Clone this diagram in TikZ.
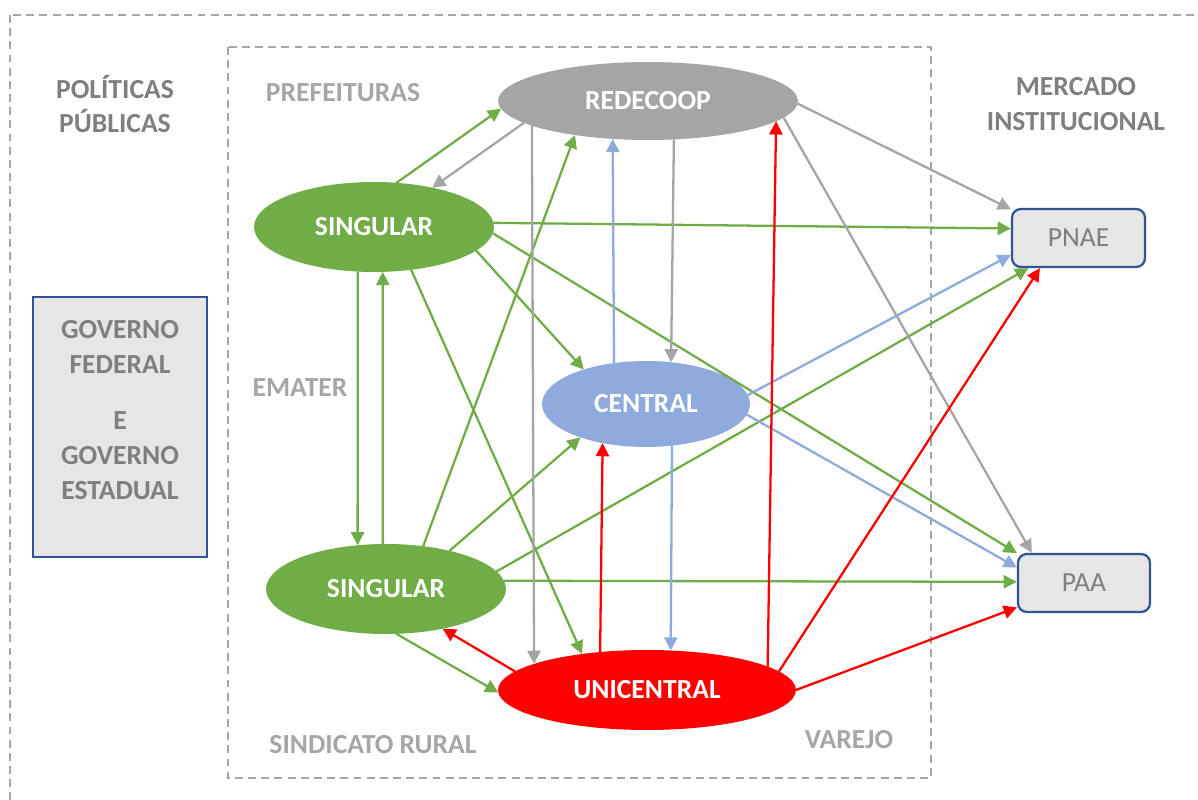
\documentclass[tikz,border=0pt]{standalone}
\usepackage{fontspec}
\setmainfont{Carlito}
\usetikzlibrary{shapes.geometric,arrows.meta}

\definecolor{coopgreen}{HTML}{70AD47}
\definecolor{coopgray}{HTML}{A5A5A5}
\definecolor{coopblue}{HTML}{8FAADC}
\definecolor{coopred}{HTML}{FF0000}
\definecolor{boxblue}{HTML}{2F5597}
\definecolor{boxgray}{HTML}{E6E6E6}
\definecolor{headgray}{HTML}{7F7F7F}
\definecolor{labelgray}{HTML}{A6A6A6}
\definecolor{framegray}{HTML}{A6A6A6}

\begin{document}
\begin{tikzpicture}[x=0.02cm,y=-0.02cm,
    font=\fontsize{15.7}{19.85}\selectfont\bfseries,
    coop/.style={ellipse,inner sep=0pt,outer sep=0pt,text=white},
    mkt/.style={draw=boxblue,line width=1.3pt,fill=boxgray,rounded corners=5pt,
      text=headgray,font=\fontsize{15.7}{19.85}\selectfont,
      minimum height=1.16cm},
    dashframe/.style={draw=framegray,line width=1.1pt,dash pattern=on 4.5pt off 3pt},
    areatag/.style={text=labelgray},
    sidehead/.style={text=headgray,align=center},
    flow/.style={line width=1.3pt,-{Triangle[length=7.5pt,width=7.5pt]}}]
  \clip (0,0) rectangle (1198,800);

  % outer and inner frames
  \draw[dashframe] (10,15) rectangle (1220,820);
  \draw[dashframe] (228,47) rectangle (931,778);

  % side headings and area labels
  \node[sidehead] (politicas) at (115,104) {POLÍTICAS\\PÚBLICAS};
  \node[sidehead] (mercado) at (1076,104) {MERCADO\\INSTITUCIONAL};
  \node[areatag] (pref) at (343,93) {PREFEITURAS};
  \node[areatag] (emater) at (300,388) {EMATER};
  \node[areatag] (sind) at (373,745) {SINDICATO RURAL};
  \node[areatag] (varejo) at (849,740) {VAREJO};

  % governo
  \node[draw=boxblue,line width=1.3pt,fill=boxgray,
    minimum width=3.48cm,minimum height=5.2cm] (gov) at (120,427) {};
  \node[sidehead] (govtxt) at (120,410) {GOVERNO\\FEDERAL\\[12pt]E\\GOVERNO\\ESTADUAL};

  % cooperatives
  \node[coop,fill=coopgray,minimum width=6cm,minimum height=1.56cm] (redecoop) at (648,101) {REDECOOP};
  \node[coop,fill=coopgreen,minimum width=4.8cm,minimum height=1.8cm] (singtop) at (374,227) {SINGULAR};
  \node[coop,fill=coopgreen,minimum width=4.8cm,minimum height=1.8cm] (singbot) at (386,589) {SINGULAR};
  \node[coop,fill=coopblue,minimum width=4.16cm,minimum height=1.72cm] (central) at (646,404) {CENTRAL};
  \node[coop,fill=coopred,minimum width=5.96cm,minimum height=1.6cm] (unicentral) at (647,690) {UNICENTRAL};

  % markets
  \node[mkt,minimum width=2.66cm] (pnae) at (1078.5,238) {PNAE};
  \node[mkt,minimum width=2.64cm] (paa) at (1084,583) {PAA};

  % flows
  \foreach \a/\b in {singtop.63/redecoop.183, singtop.2/pnae.172, singtop.357/paa.156,
      singtop.347/central.151, singtop.250/singbot.123, singbot.94/singtop.281,
      singtop.311/unicentral.151, singbot.49/redecoop.205, singbot.31/central.207,
      singbot.9/pnae.211, singbot.4/paa.179, singbot.283/unicentral.181}
    \draw[flow,coopgreen] (\a) -- (\b);
  \foreach \a/\b in {redecoop.190/singtop.34, redecoop.192.5/unicentral.167,
      redecoop.304/central.59, redecoop.359/pnae.157, redecoop.353/paa.150}
    \draw[flow,coopgray] (\a) -- (\b);
  \foreach \a/\b in {central.128/redecoop.227, central.302/unicentral.59,
      central.5/pnae.194, central.354/paa.167}
    \draw[flow,coopblue] (\a) -- (\b);
  \foreach \a/\b in {unicentral.172/singbot.325, unicentral.141/central.222,
      unicentral.11/redecoop.351, unicentral.8/pnae.218, unicentral.0/paa.200}
    \draw[flow,coopred] (\a) -- (\b);
\end{tikzpicture}
\end{document}
